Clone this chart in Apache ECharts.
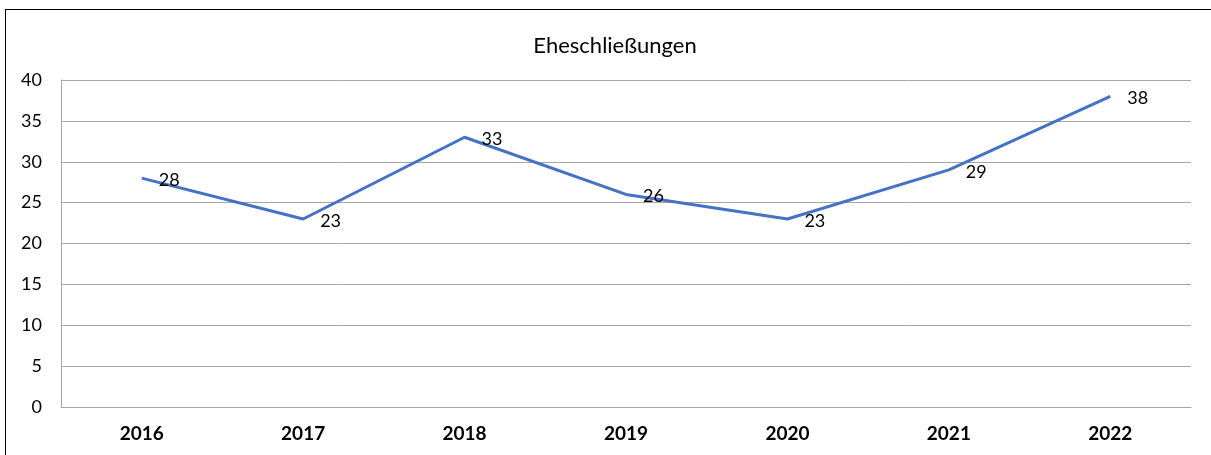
<!DOCTYPE html>
<html>
<head>
<meta charset="utf-8">
<script src="https://cdn.jsdelivr.net/npm/echarts@6/dist/echarts.min.js"></script>
<style>
  html, body { margin: 0; padding: 0; background: #fff; overflow: hidden; }
  #frame { position: absolute; left: 5px; top: 9px; width: 1300px; height: 600px; border: 1px solid #000; }
  #chart { position: absolute; left: 0; top: 0; width: 1211px; height: 455px; }
</style>
</head>
<body>
<div id="frame"></div>
<div id="chart"></div>
<script>
var years = ['2016', '2017', '2018', '2019', '2020', '2021', '2022'];
var marriages = [28, 23, 33, 26, 23, 29, 38];

var font = 'Lato, "Open Sans", sans-serif';
var myChart = echarts.init(document.getElementById('chart'));
var option = {
    animation: false,
    title: {
        text: 'Eheschließungen',
        left: 610,
        textAlign: 'center',
        top: 30,
        textStyle: { color: '#000', fontSize: 22, fontWeight: 'normal', fontFamily: font }
    },
    grid: { left: 61, right: 20, top: 80, bottom: 48 },
    xAxis: {
        type: 'category',
        data: years,
        boundaryGap: true,
        axisLine: { show: true, lineStyle: { color: '#a6a6a6', width: 1 } },
        axisTick: { show: false },
        axisLabel: { color: '#000', fontSize: 19, fontWeight: 'bold', fontFamily: font, margin: 17 }
    },
    yAxis: {
        type: 'value',
        min: 0,
        max: 40,
        interval: 5,
        axisLine: { show: true, lineStyle: { color: '#a6a6a6', width: 1 } },
        axisTick: { show: false },
        splitLine: { lineStyle: { color: '#a6a6a6', width: 1 } },
        axisLabel: { color: '#000', fontSize: 18, fontFamily: font, margin: 19 }
    },
    series: [{
        name: 'Eheschließungen',
        type: 'line',
        data: marriages,
        showSymbol: true,
        symbol: 'circle',
        symbolSize: 0,
        itemStyle: { color: '#4472C4', borderWidth: 0 },
        lineStyle: { color: '#4472C4', width: 3 },
        label: {
            show: true,
            position: 'right',
            distance: 17,
            offset: [0, 2],
            color: '#000',
            fontSize: 18,
            fontFamily: font
        }
    }]
};
myChart.setOption(option);
</script>
</body>
</html>
